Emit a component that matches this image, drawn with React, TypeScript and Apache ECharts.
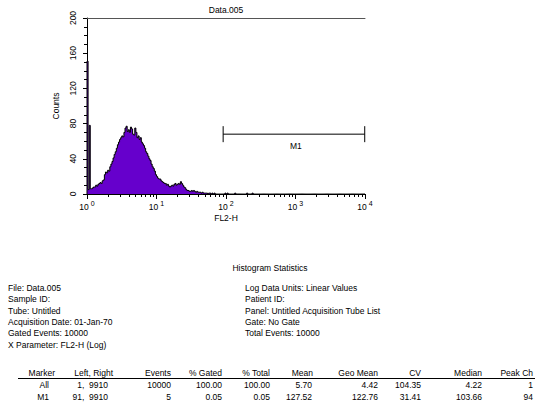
import React, { useEffect, useRef } from "react";
import * as echarts from "echarts";

// ---------- data ----------
const binsPerDecade = 64;
const decadeTicks = [0, 1, 2, 3, 4];
// counts per histogram bin (64 bins per decade, starting at 10^0)
const histCounts = [
  151, 5, 78, 6, 6, 7, 8, 8, 10, 9, 11, 12, 13, 12, 15, 16, 22, 25, 24, 27,
  26, 31, 34, 37, 41, 45, 48, 52, 56, 59, 62, 64, 66, 65, 70, 75, 77, 71, 73, 70,
  76, 74, 68, 67, 75, 70, 64, 66, 62, 64, 59, 57, 55, 52, 48, 46, 43, 40, 38, 34,
  31, 29, 26, 22, 20, 18, 17, 17, 15, 14, 13, 12, 12, 10, 11, 9, 8, 9, 10, 9,
  11, 12, 10, 11, 12, 11, 14, 12, 10, 8, 7, 5, 4, 4, 3, 3, 4, 3, 4, 3,
  2, 3, 2, 2, 2, 1, 2, 1, 1, 1, 1, 0, 1, 1, 0, 1, 0, 1, 0,
];
// isolated events in the high tail: [bin, count]
const tailEvents = [
  [127, 1],
  [129, 1],
  [136, 1],
  [147, 1],
  [152, 1],
];
const totalBins = 256;
const yMax = 200;
const yInterval = 40;
const markerName = "M1";
const markerRange = [91, 9910];
const markerLevel = 68;

const titleText = "Data.005";
const xName = "FL2-H";
const yName = "Counts";
const statsTitle = "Histogram Statistics";
const infoLeft = [
  "File: Data.005",
  "Sample ID:",
  "Tube: Untitled",
  "Acquisition Date: 01-Jan-70",
  "Gated Events: 10000",
  "X Parameter: FL2-H (Log)",
];
const infoRight = [
  "Log Data Units: Linear Values",
  "Patient ID:",
  "Panel: Untitled Acquisition Tube List",
  "Gate: No Gate",
  "Total Events: 10000",
];
const tableHeaders = ["Marker", "Left, Right", "Events", "% Gated", "% Total", "Mean", "Geo Mean", "CV", "Median", "Peak Ch"];
const tableRows = [
  ["All", "1,  9910", "10000", "100.00", "100.00", "5.70", "4.42", "104.35", "4.22", "1"],
  ["M1", "91,  9910", "5", "0.05", "0.05", "127.52", "122.76", "31.41", "103.66", "94"],
];

// ---------- layout ----------
const FONT = "'Liberation Sans', Arial, sans-serif";
const FS = 8.5;
const headerRight = [55, 113, 171, 222, 270, 313, 378, 421, 482, 533];
const valueRight = [49, 108, 171, 222, 270, 312, 378, 421, 482, 533];

export default function App() {
  const ref = useRef<HTMLDivElement>(null);
  useEffect(() => {
    document.body.style.margin = "0";
    if (!ref.current) return;
    const chart = echarts.init(ref.current, undefined, { renderer: "svg" });

    const counts: number[] = [];
    for (let i = 0; i < totalBins; i++) counts.push(i < histCounts.length ? histCounts[i] : 0);
    tailEvents.forEach(([b, c]) => (counts[b] = c));
    const histData: number[][] = [[0, 0]];
    counts.forEach((c, i) => histData.push([i, c]));
    histData.push([totalBins, 0]);

    const minorTicks: number[] = [];
    for (let d = 0; d < 4; d++) for (let k = 2; k <= 9; k++) minorTicks.push((d + Math.log10(k)) * binsPerDecade);

    const mx = markerRange.map((v) => Math.log10(v) * binsPerDecade);

    const txt = (x: number, y: number, text: string, align = "left", size = FS) => ({
      type: "text",
      x,
      y,
      style: { text, fill: "#000", font: `${size}px ${FONT}`, align, verticalAlign: "middle" },
    });

    const graphics: any[] = [];
    graphics.push(txt(226, 10, titleText, "center"));
    graphics.push(txt(270, 268, statsTitle, "center"));
    infoLeft.forEach((t, i) => graphics.push(txt(8, 288 + i * 11.3, t)));
    infoRight.forEach((t, i) => graphics.push(txt(245, 288 + i * 11.3, t)));
    tableHeaders.forEach((t, i) => graphics.push(txt(headerRight[i], 373, t, "right")));
    graphics.push({ type: "line", shape: { x1: 18, y1: 378.5, x2: 535, y2: 378.5 }, style: { stroke: "#000", lineWidth: 1 } });
    tableRows.forEach((row, r) =>
      row.forEach((t, i) => graphics.push(txt(valueRight[i], 385 + r * 11.5, t, "right")))
    );

    chart.setOption({
      animation: false,
      textStyle: { fontFamily: FONT },
      grid: { left: 87, top: 18, width: 278, height: 176 },
      xAxis: [
        {
          type: "value",
          min: 0,
          max: totalBins,
          interval: binsPerDecade,
          position: "bottom",
          axisLine: { show: true, lineStyle: { color: "#000", width: 1 } },
          axisTick: { show: true, length: 5, lineStyle: { color: "#000" } },
          splitLine: { show: false },
          axisLabel: {
            margin: 6,
            formatter: (v: number) => `{b|10}{s|${Math.round(v / binsPerDecade)}}`,
            rich: {
              b: { fontSize: FS, fontFamily: FONT, color: "#000", lineHeight: 14 },
              s: { fontSize: 7, fontFamily: FONT, color: "#000", lineHeight: 8, verticalAlign: "top", padding: [0, 0, 0, 2] },
            },
          },
          name: xName,
          nameLocation: "middle",
          nameGap: 19,
          nameTextStyle: { fontSize: FS, color: "#000", fontFamily: FONT },
        },
        {
          type: "value",
          min: 0,
          max: totalBins,
          position: "bottom",
          axisLine: { show: false },
          axisTick: { show: true, length: 3, customValues: minorTicks, lineStyle: { color: "#000" } },
          axisLabel: { show: false },
          splitLine: { show: false },
        },
        {
          type: "value",
          min: 0,
          max: totalBins,
          position: "top",
          axisLine: { show: true, lineStyle: { color: "#555", width: 1 } },
          axisTick: { show: false },
          axisLabel: { show: false },
          splitLine: { show: false },
        },
      ],
      yAxis: {
        type: "value",
        min: 0,
        max: yMax,
        interval: yInterval,
        axisLine: { show: true, lineStyle: { color: "#000", width: 1 } },
        axisTick: { show: true, length: 4, lineStyle: { color: "#000" } },
        minorTick: { show: true, splitNumber: 4, length: 3, lineStyle: { color: "#000" } },
        splitLine: { show: false },
        minorSplitLine: { show: false },
        axisLabel: { rotate: 90, fontSize: FS, color: "#000", margin: 10, fontFamily: FONT },
        name: yName,
        nameLocation: "middle",
        nameGap: 24,
        nameTextStyle: { fontSize: FS, color: "#000", fontFamily: FONT },
      },
      series: [
        {
          type: "line",
          xAxisIndex: 0,
          data: histData,
          step: "end",
          symbol: "none",
          lineStyle: { color: "#000", width: 1 },
          areaStyle: { color: "#6600cc", opacity: 1 },
          z: 2,
        },
        {
          type: "custom",
          xAxisIndex: 0,
          clip: false,
          data: [[mx[0], mx[1], markerLevel]],
          encode: { x: [0, 1], y: 2 },
          renderItem: (params: any, api: any) => {
            const a = api.coord([api.value(0), api.value(2)]);
            const b = api.coord([api.value(1), api.value(2)]);
            const m = api.coord([(api.value(0) + api.value(1)) / 2, api.value(2)]);
            const st = { stroke: "#000", lineWidth: 1 };
            return {
              type: "group",
              children: [
                { type: "line", shape: { x1: a[0], y1: a[1], x2: b[0], y2: b[1] }, style: st },
                { type: "line", shape: { x1: a[0], y1: a[1] - 8, x2: a[0], y2: a[1] + 8 }, style: st },
                { type: "line", shape: { x1: b[0], y1: b[1] - 8, x2: b[0], y2: b[1] + 8 }, style: st },
                {
                  type: "text",
                  x: m[0] + 2,
                  y: a[1] + 12,
                  style: { text: markerName, fill: "#000", font: `${FS}px ${FONT}`, align: "center", verticalAlign: "middle" },
                },
              ],
            };
          },
          z: 3,
        },
      ],
      graphic: graphics,
    });
    return () => chart.dispose();
  }, []);
  return <div ref={ref} style={{ position: "absolute", left: 0, top: 0, width: 538, height: 411 }} />;
}
